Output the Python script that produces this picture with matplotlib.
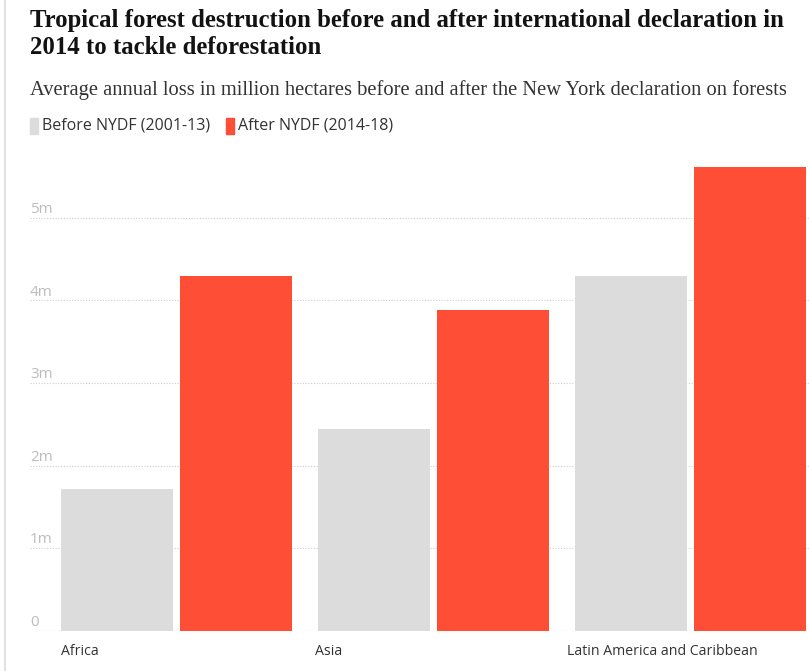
"""Tropical forest loss before and after the NYDF."""

import matplotlib.pyplot as plt
import numpy as np
from matplotlib.lines import Line2D

regions = ["Africa", "Asia", "Latin America and Caribbean"]
before = [1.72, 2.44, 4.30]
after = [4.30, 3.88, 5.62]
y_ticks = [0, 1, 2, 3, 4, 5]
y_labels = ["0", "1m", "2m", "3m", "4m", "5m"]

GREY = "#dcdcdc"
RED = "#ff4e36"

fig = plt.figure(figsize=(8.09, 6.71), dpi=100)
ax = fig.add_axes([30 / 809, 1 - 631 / 671, 779 / 809, 471 / 671])

x = np.arange(len(regions))
width = 0.436
offset = 0.2315
ax.bar(x - offset, before, width, color=GREY, zorder=2)
ax.bar(x + offset, after, width, color=RED, zorder=2)

ax.set_xlim(-0.570, 2.461)
ax.set_ylim(0, 5.70)

# dotted grid with labels sitting above the line
for val, lab in zip(y_ticks, y_labels):
    ls = "-" if val == 0 else (0, (1, 1.5))
    ax.axhline(val, color="#cccccc", lw=0.8, ls=ls, zorder=1)
    ax.text(-0.570, val + 0.06, lab, color="#bdbdbd", fontsize=11,
            family="Open Sans", ha="left", va="baseline")

for xi, name, nudge in zip(x, regions, [0.0, 0.012, 0.03]):
    ax.text(xi - offset - width / 2 - nudge, -0.25, name, color="#333333",
            fontsize=10.2, family="Open Sans", ha="left", va="center")

ax.set_xticks([])
ax.set_yticks([])
for s in ax.spines.values():
    s.set_visible(False)

fig.text(30 / 809, 1 - 9 / 671, "Tropical forest destruction before and after international declaration in\n2014 to tackle deforestation",
         fontsize=17.8, fontweight="bold", family="Liberation Serif", color="#121212",
         ha="left", va="top", linespacing=1.2)
fig.text(30 / 809, 1 - 90 / 671, "Average annual loss in million hectares before and after the New York declaration on forests",
         fontsize=14.8, family="Liberation Serif", color="#333333", ha="left", va="center")

# legend
leg_y = 1 - 126 / 671
for lx, col, lab in [(30, GREY, "Before NYDF (2001-13)"), (226, RED, "After NYDF (2014-18)")]:
    fig.patches.append(plt.Rectangle((lx / 809, leg_y - 8 / 671), 8 / 809, 16 / 671,
                                     transform=fig.transFigure, color=col))
    fig.text((lx + 12) / 809, leg_y, lab, fontsize=11.5, family="Open Sans",
             color="#333333", ha="left", va="center")

fig.add_artist(Line2D([5 / 809, 5 / 809], [0, 1], color="#dcdcdc", lw=1.2))

fig.savefig("out.png", dpi=100)
